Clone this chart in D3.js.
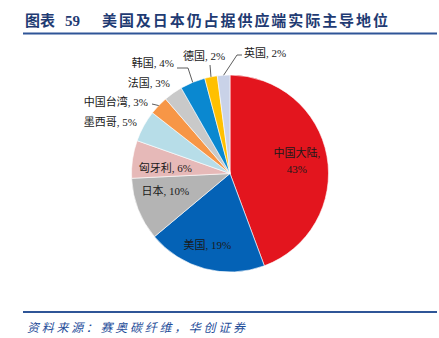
<!DOCTYPE html>
<html><head><meta charset="utf-8">
<script src="https://cdn.jsdelivr.net/npm/d3@7/dist/d3.min.js"></script>
<style>
html,body{margin:0;padding:0;background:#fff;}
svg{display:block;}
</style></head>
<body>
<svg id="chart" width="439" height="338"></svg>
<script>
// ---- data ----
const categories = ["中国大陆","美国","日本","匈牙利","墨西哥","中国台湾","法国","韩国","德国","英国"];
const shares = [43,19,10,6,5,3,3,4,2,2];
const colors = ["#E3151E","#0462B6","#B4B4B4","#E6B9B8","#B7DDE8","#F79646","#C9C9C9","#0A88D0","#FFC000","#C9D2E8"];
const titleNo = "图表 59";
const titleText = "美国及日本仍占据供应端实际主导地位";
const sourceText = "资料来源：赛奥碳纤维，华创证券";

// ---- label layout (offsets from pie centre) ----
const labelLayout = {
  "中国大陆": {inside:true, r:68, da:0, lines:["中国大陆,","43%"]},
  "美国": {inside:true, r:75, da:2.7},
  "日本": {inside:true, r:67, da:6},
  "匈牙利": {inside:true, r:65, da:-3.5},
  "墨西哥": {text:[-93,-51.5], anchor:"end"},
  "中国台湾": {text:[-82,-71.5], anchor:"end", leader:[[-78,-69.5]]},
  "法国": {text:[-60,-90.5], anchor:"end"},
  "韩国": {text:[-56,-110.5], anchor:"end", leader:[[-42,-105.5],[-53,-105.5]]},
  "德国": {text:[-26,-117.5], anchor:"middle", leader:[[-20,-108.5]]},
  "英国": {text:[14,-120.5], anchor:"start", leader:[[7,-118.5],[12,-118.5]]}
};

const svg = d3.select("#chart");
const cx = 230, cy = 173.5, R = 98.5;
const fontLabel = "'Liberation Serif','Noto Sans CJK SC',serif";

// title
const t = svg.append("text").attr("y", 25.5)
  .attr("font-family", "'Liberation Serif','Noto Sans CJK SC',serif")
  .attr("font-weight", "bold").attr("font-size", 15).attr("fill", "#1F3B73");
t.append("tspan").attr("x", 25).text(titleNo.split(" ")[0]);
t.append("tspan").attr("x", 65).text(titleNo.split(" ")[1]);
t.append("tspan").attr("x", 102).attr("textLength", 286).attr("lengthAdjust","spacing").text(titleText);

svg.append("line").attr("x1",23).attr("x2",437).attr("y1",33.5).attr("y2",33.5)
  .attr("stroke","#2F5597").attr("stroke-width",2);
svg.append("line").attr("x1",23).attr("x2",437).attr("y1",312).attr("y2",312)
  .attr("stroke","#2F5597").attr("stroke-width",2);

svg.append("text").attr("x", 27).attr("y", 332)
  .attr("font-family","'Noto Sans CJK SC',sans-serif").attr("font-style","italic")
  .attr("font-size", 12).attr("fill","#1F4E9A")
  .attr("textLength", 218).attr("lengthAdjust","spacing")
  .text(sourceText);

// pie
const data = categories.map((c,i)=>({name:c, value:shares[i], color:colors[i]}));
const pie = d3.pie().value(d=>d.value).sort(null).startAngle(0).endAngle(2*Math.PI);
const arcs = pie(data);
const arc = d3.arc().innerRadius(0).outerRadius(R);
const edgeArc = d3.arc().innerRadius(R).outerRadius(R);

const g = svg.append("g").attr("transform", `translate(${cx},${cy})`);
g.selectAll("path.slice").data(arcs).enter().append("path")
  .attr("class","slice")
  .attr("d", arc)
  .attr("fill", d=>d.data.color)
  .attr("stroke","#fff").attr("stroke-width",0.6);

function polar(r, angDeg){
  const a = angDeg*Math.PI/180;
  return [r*Math.sin(a), -r*Math.cos(a)];
}

arcs.forEach(d=>{
  const L = labelLayout[d.data.name];
  const label = d.data.name + ", " + d.data.value + "%";
  const mid = (d.startAngle + d.endAngle)/2 * 180/Math.PI;
  if (L.inside){
    const [x,y] = polar(L.r, mid + L.da);
    const lines = L.lines || [label];
    const txt = g.append("text").attr("text-anchor","middle")
      .attr("font-family", fontLabel).attr("font-size", 11).attr("fill","#1a1a1a");
    lines.forEach((ln,i)=>{
      txt.append("tspan").attr("x", x)
        .attr("y", y + 4 + (i - (lines.length-1)/2)*16)
        .text(ln);
    });
  } else {
    if (L.leader){
      const p0 = edgeArc.centroid(d);
      const pts = [p0].concat(L.leader);
      g.append("path").attr("d", d3.line()(pts))
        .attr("fill","none").attr("stroke","#333").attr("stroke-width",0.8);
    }
    g.append("text").attr("x", L.text[0]).attr("y", L.text[1] + 4)
      .attr("text-anchor", L.anchor)
      .attr("font-family", fontLabel).attr("font-size", 11).attr("fill","#1a1a1a")
      .text(label);
  }
});
</script>
</body></html>
